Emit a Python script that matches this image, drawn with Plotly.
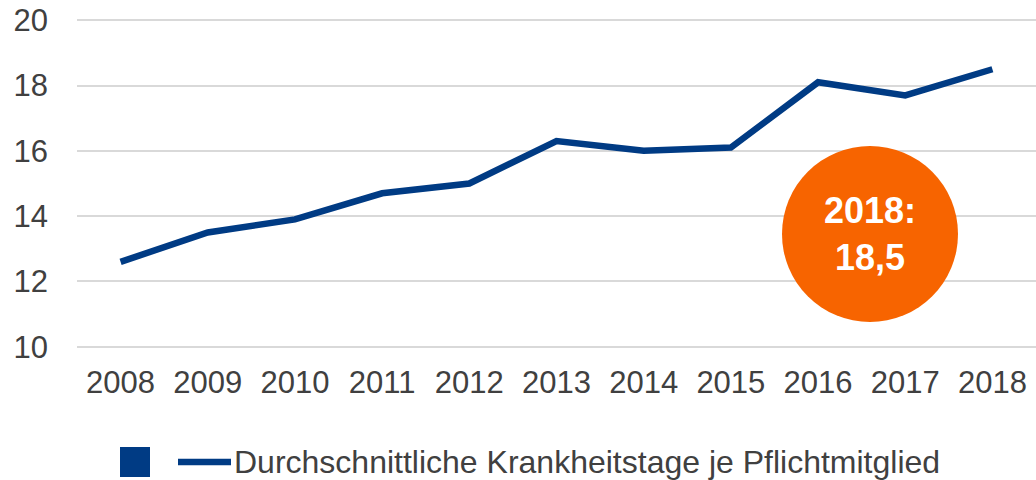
import plotly.graph_objects as go

# Data
years = ["2008", "2009", "2010", "2011", "2012", "2013", "2014", "2015", "2016", "2017", "2018"]
sick_days = [12.6, 13.5, 13.9, 14.7, 15.0, 16.3, 16.0, 16.1, 18.1, 17.7, 18.5]
series_name = "Durchschnittliche Krankheitstage je Pflichtmitglied"
y_ticks = [10, 12, 14, 16, 18, 20]
badge_text = "2018:<br>18,5"

BLUE = "#003B84"
ORANGE = "#F76400"
TXT = "#404040"
FONT = "Liberation Sans, Arial, sans-serif"

fig = go.Figure()
fig.add_trace(go.Scatter(
    x=years, y=sick_days, mode="lines", name=series_name,
    line=dict(color=BLUE, width=6.5), showlegend=False,
))

W, H = 1036, 480
L, R, T, B = 77, 0, 17, 130
pw, ph = W - L - R, H - T - B

def px_x(px):
    return (px - L) / pw

def px_y(py):
    return (H - B - py) / ph

# Orange badge circle
cx, cy, r = px_x(870), px_y(234), 88
fig.add_shape(type="circle", xref="paper", yref="paper",
              xsizemode="pixel", ysizemode="pixel", xanchor=cx, yanchor=cy,
              x0=-r, x1=r, y0=-r, y1=r,
              fillcolor=ORANGE, line=dict(width=0), layer="above")
fig.add_annotation(xref="paper", yref="paper", x=cx, y=cy, text=badge_text,
                   showarrow=False, xanchor="center", yanchor="middle",
                   font=dict(family=FONT, size=36, color="white", weight=700),
                   align="center")

# Manual legend
ly = px_y(462)
fig.add_shape(type="rect", xref="paper", yref="paper",
              xsizemode="pixel", ysizemode="pixel", xanchor=px_x(135), yanchor=ly,
              x0=-15, x1=15, y0=-15, y1=15,
              fillcolor=BLUE, line=dict(width=0))
fig.add_shape(type="line", xref="paper", yref="paper",
              x0=px_x(178), x1=px_x(231), y0=ly, y1=ly,
              line=dict(color=BLUE, width=6.5))
fig.add_annotation(xref="paper", yref="paper", x=px_x(232), y=ly, text=series_name,
                   showarrow=False, xanchor="left", yanchor="middle",
                   font=dict(family=FONT, size=32, color=TXT))

fig.update_layout(
    width=W, height=H,
    margin=dict(l=L, r=R, t=T, b=B),
    paper_bgcolor="white", plot_bgcolor="white",
    font=dict(family=FONT, size=31, color=TXT),
    xaxis=dict(type="category", range=[-0.5, 10.5], showgrid=False,
               showline=False, zeroline=False, ticks="",
               tickfont=dict(size=31, color=TXT), ticklabelstandoff=11),
    yaxis=dict(range=[9.9, 20.1], tickvals=y_ticks, showgrid=True,
               gridcolor="#D9D9D9", gridwidth=1.5, zeroline=False,
               showline=False, ticks="",
               tickfont=dict(size=31, color=TXT), ticklabelstandoff=28),
)

fig.write_html("out.html", config={"displayModeBar": False},
               post_script="document.body.style.margin='0';document.body.style.padding='0';document.body.style.overflow='hidden';")
